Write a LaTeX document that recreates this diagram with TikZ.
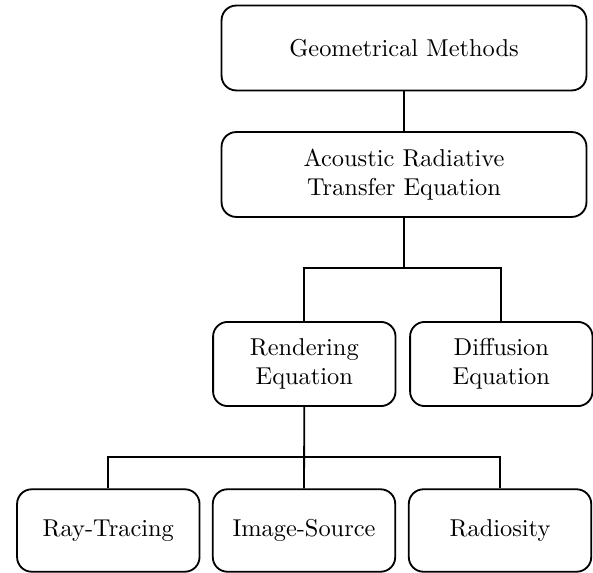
\documentclass[tikz,border=0pt]{standalone}
\begin{document}
\begin{tikzpicture}[x=0.41pt,y=-0.41pt,
  box/.style={draw, line width=0.75pt, rounded corners=6pt, align=center, inner sep=0pt, font=\normalsize},
  wide/.style={box, minimum width=149.6pt, minimum height=34.8pt},
  small/.style={box, minimum width=74.8pt, minimum height=34.5pt},
  link/.style={line width=0.75pt}]
\useasboundingbox (0,0) rectangle (593,573);
\node[wide] (gm) at (404,48) {Geometrical Methods};
\node[wide] (art) at (404,174.5) {Acoustic Radiative\\Transfer Equation};
\node[small] (re) at (304.3,364) {Rendering\\Equation};
\node[small] (de) at (501.3,364) {Diffusion\\Equation};
\node[small, minimum height=33.8pt] (rt) at (108.3,530.5) {Ray-Tracing};
\node[small, minimum height=33.8pt] (is) at (304,530.5) {Image-Source};
\node[small, minimum height=33.8pt] (ra) at (500,530.5) {Radiosity};
\coordinate (j1) at (404,267.7);
\coordinate (j2) at (304.3,456.7);
\draw[link] (gm.south) -- (art.north);
\draw[link] (art.south) -- (j1);
\draw[link] (re.north) |- (j1) -| (de.north);
\draw[link] (re.south) -- (is.north);
\draw[link] (rt.north) |- (j2) -| (ra.north);
\end{tikzpicture}
\end{document}
